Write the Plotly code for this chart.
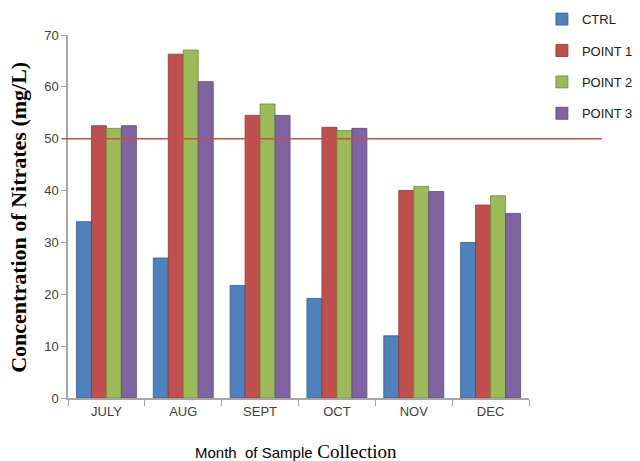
import plotly.graph_objects as go

# Nitrate concentration by month and sampling point (mg/L)
months = ["JULY", "AUG", "SEPT", "OCT", "NOV", "DEC"]
ctrl = [34, 27, 21.7, 19.2, 12, 30]
point1 = [52.5, 66.3, 54.5, 52.2, 40, 37.2]
point2 = [52, 67.1, 56.7, 51.6, 40.8, 39]
point3 = [52.5, 61, 54.5, 52, 39.8, 35.6]
limit_value = 50

series = [
    ("CTRL", ctrl, "#4F81BD", "#385D8A"),
    ("POINT 1", point1, "#C0504D", "#8C3836"),
    ("POINT 2", point2, "#9BBB59", "#71893F"),
    ("POINT 3", point3, "#8064A2", "#5C4776"),
]

fig = go.Figure()
for name, vals, color, edge in series:
    fig.add_trace(go.Bar(
        name=name, x=months, y=vals, legendgroup=name,
        marker=dict(color=color, line=dict(color=edge, width=0.8)),
    ))

# permissible limit line
fig.add_shape(type="line", xref="paper", yref="y",
              x0=-0.013, x1=1.158, y0=limit_value, y1=limit_value,
              line=dict(color="#C0504D", width=1.5))

tick_font = dict(family="Liberation Sans, Arial, sans-serif", size=13, color="#404040")

fig.update_layout(
    width=640, height=461,
    margin=dict(l=68, r=111, t=35, b=63, autoexpand=False),
    paper_bgcolor="white", plot_bgcolor="white",
    barmode="group", bargap=0.22, bargroupgap=0,
    showlegend=True,
    legend=dict(x=1.028, y=1.085, xanchor="left", yanchor="top",
                font=dict(family="Liberation Sans, Arial, sans-serif", size=13, color="#202020"),
                itemwidth=30, tracegroupgap=11.5, bgcolor="rgba(0,0,0,0)",
                traceorder="grouped"),
    xaxis=dict(
        tickfont=tick_font, showline=True, linecolor="#A6A6A6", linewidth=2,
        ticks="outside", tickson="boundaries", ticklen=6, tickcolor="#A6A6A6",
        showgrid=False,
    ),
    yaxis=dict(
        range=[0, 70], dtick=10, tickfont=tick_font,
        showline=True, linecolor="#A6A6A6", linewidth=1.5,
        ticks="outside", ticklen=5, tickcolor="#A6A6A6",
        showgrid=False, zeroline=False,
    ),
    annotations=[
        dict(text="<b>Concentration of Nitrates (mg/L)</b>", textangle=-90,
             xref="paper", yref="paper", x=-0.108, y=0.497,
             xanchor="center", yanchor="middle", showarrow=False,
             font=dict(family="Liberation Serif, Times New Roman, serif", size=22, color="black")),
        dict(text="<span style='font-family:Liberation Sans;font-size:15px'>Month  of Sample</span>"
                  " Collection",
             xref="paper", yref="paper", x=0.495, y=-0.148,
             xanchor="center", yanchor="middle", showarrow=False,
             font=dict(family="Liberation Serif, Times New Roman, serif", color="black", size=19)),
    ],
)

fig.write_html("out.html")
